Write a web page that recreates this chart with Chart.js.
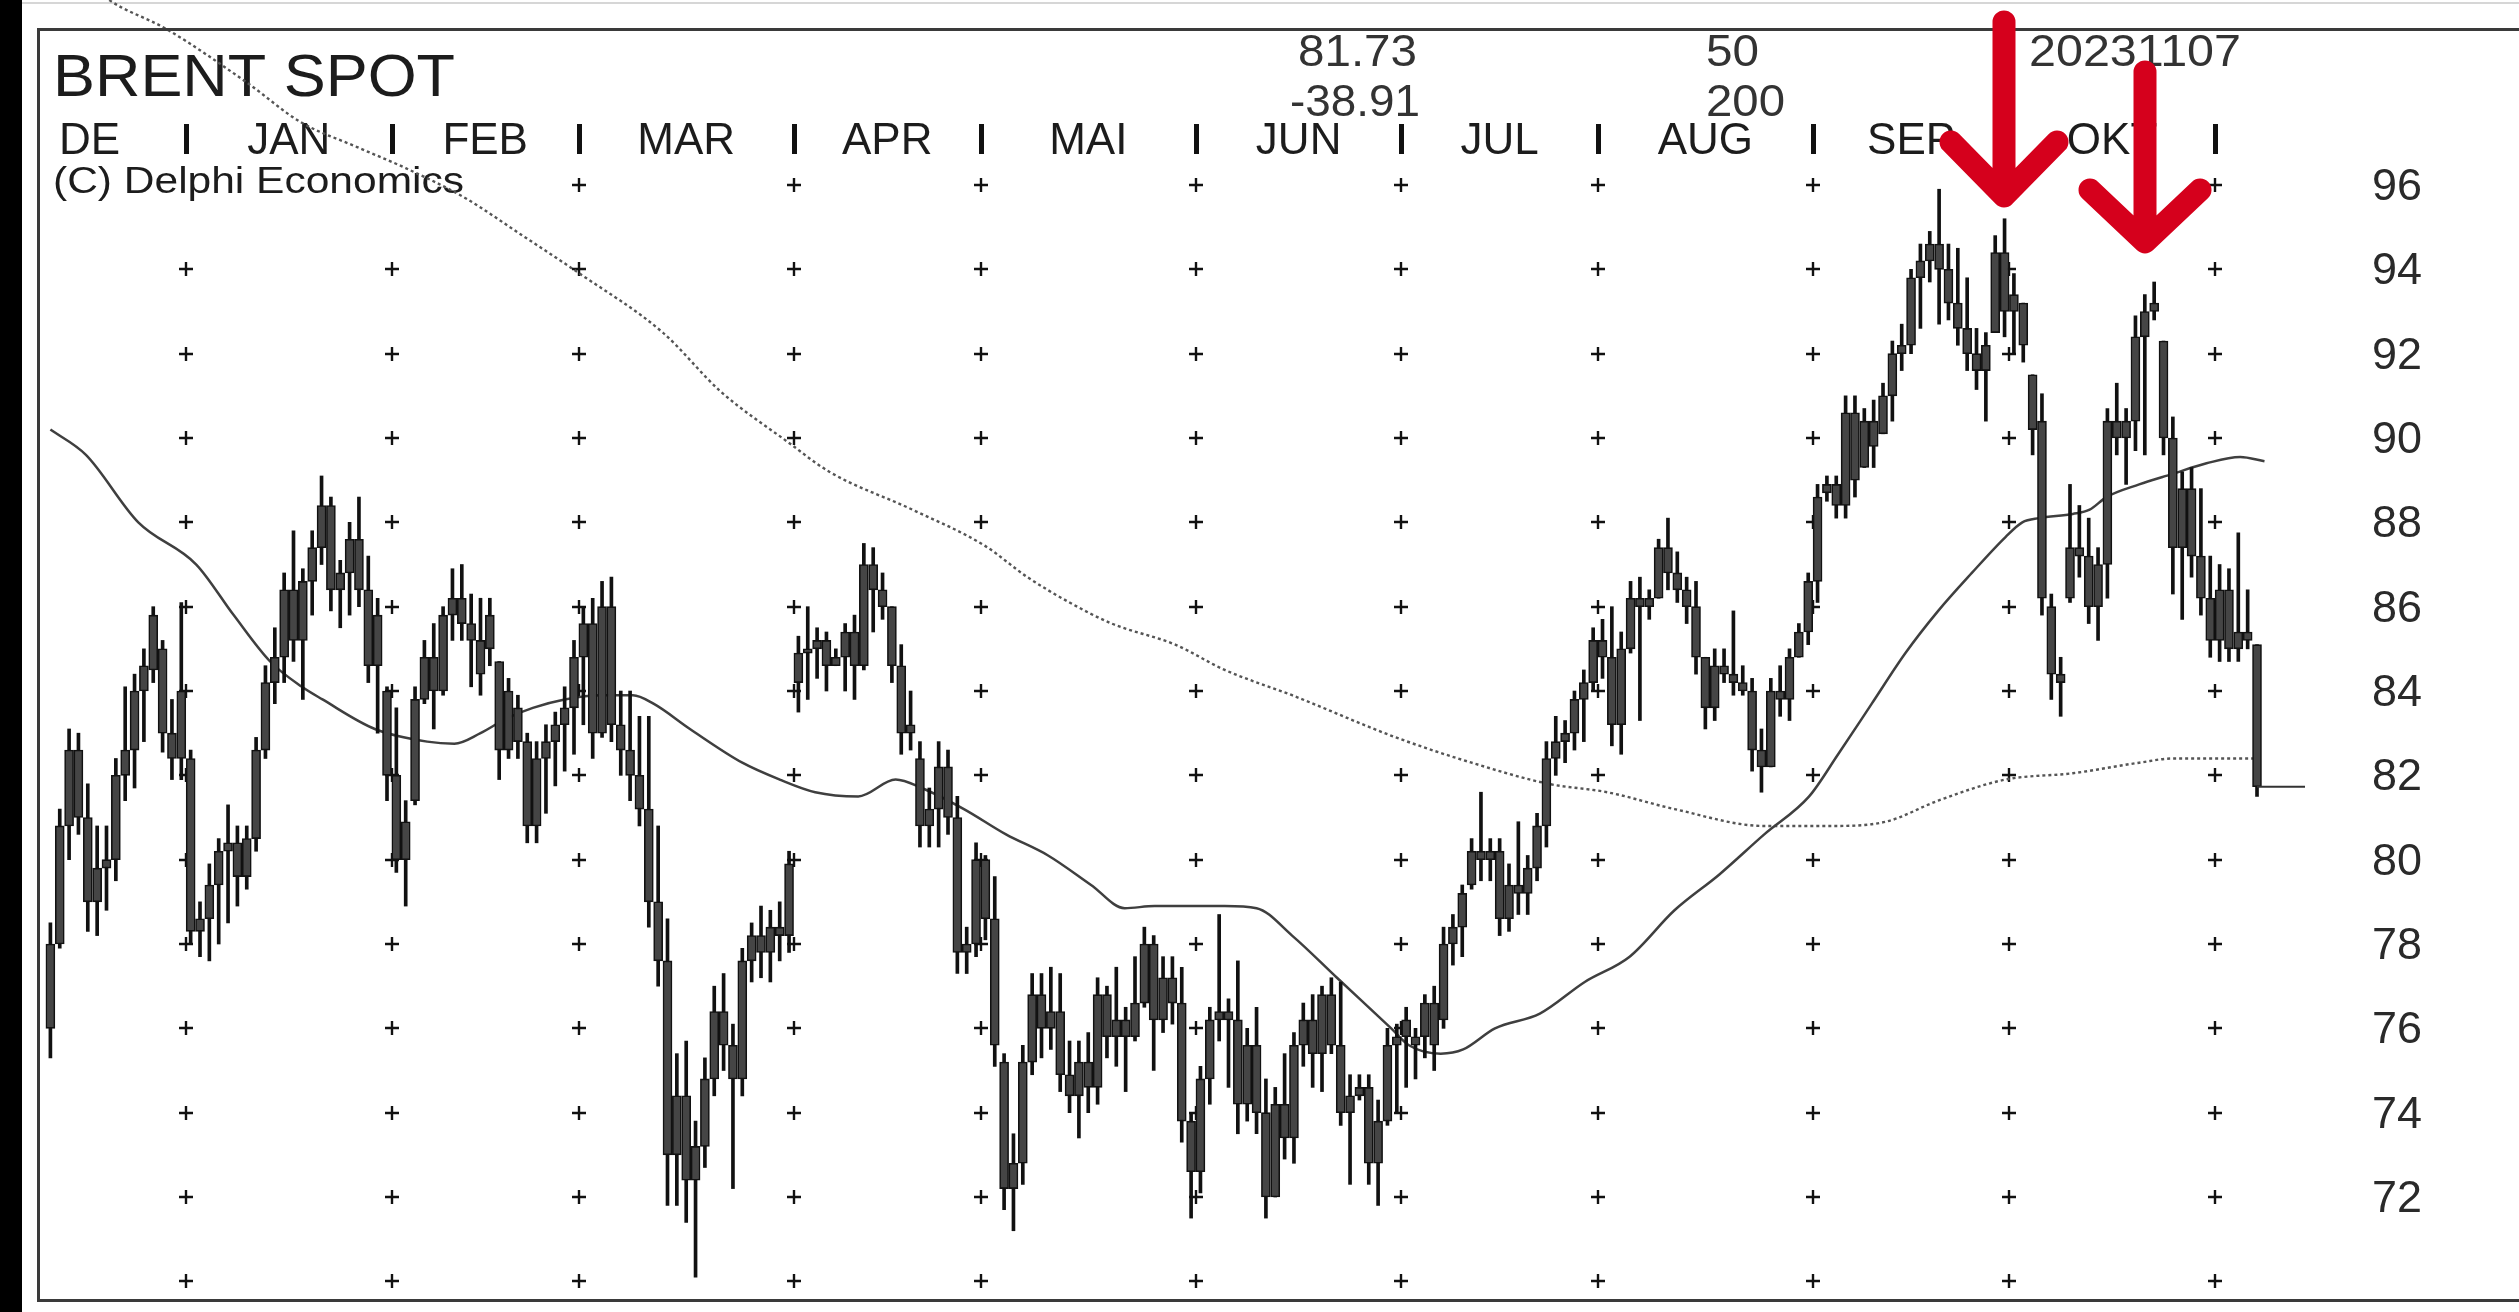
<!DOCTYPE html>
<html><head><meta charset="utf-8">
<script src="https://cdn.jsdelivr.net/npm/chart.js@4.4.0/dist/chart.umd.min.js"></script>
<style>html,body{margin:0;padding:0;background:#fff;overflow:hidden}#wrap{width:2519px;height:1312px;position:relative}canvas{display:block}</style>
</head><body><div id="wrap"><canvas id="c" width="2519" height="1312"></canvas></div>
<script>
// ---- DATA ----
const title = "BRENT SPOT";
const copyright = "(C) Delphi Economics";
const monthLabels = ["DE","JAN","FEB","MAR","APR","MAI","JUN","JUL","AUG","SEP","OKT"];
const monthDays = [15,22,20,23,20,23,22,21,23,21,22,5];
const yTicks = [72,74,76,78,80,82,84,86,88,90,92,94,96];
const gridRows = [70,72,74,76,78,80,82,84,86,88,90,92,94,96];
const lastPriceText = "81.73";
const changeText = "-38.91";
const maShortText = "50";
const maLongText = "200";
const dateText = "20231107";

const opens = [
 76.0,78.0,80.8,82.6,81.0,79.0,79.8,80.0,82.0,82.6,84.0,84.5,85.0,83.0,82.4,
 82.4,78.3,78.6,79.4,80.2,80.4,79.6,80.5,82.6,84.2,84.8,86.4,85.2,86.6,87.4,88.4,86.4,86.8,87.6,86.4,84.6,84.0,
 82.0,80.0,81.4,83.8,84.8,84.0,85.8,86.2,85.6,85.2,85.0,84.7,82.6,83.6,82.8,80.8,82.4,82.8,83.2,83.6,
 84.8,85.6,83.0,86.0,83.2,82.6,82.0,81.2,79.0,77.6,73.0,74.4,72.4,73.2,74.8,76.4,75.6,74.8,77.6,78.2,77.8,78.4,78.2,
 84.2,84.9,85.0,85.2,84.6,84.8,85.4,84.6,87.0,86.4,86.0,84.6,83.0,82.4,80.8,81.2,82.2,81.0,77.8,78.0,
 80.0,78.6,75.2,72.2,72.8,75.2,76.8,76.0,76.4,74.9,74.4,75.2,74.6,76.8,75.8,76.2,75.8,76.6,78.0,76.2,77.2,76.6,73.8,
 72.6,74.8,76.2,76.4,76.2,74.2,75.6,74.0,72.0,74.2,73.4,75.6,76.2,75.4,76.8,75.6,74.0,74.4,74.6,72.8,73.8,75.6,
 75.8,75.6,75.8,76.6,76.2,78.0,78.4,79.4,80.2,80.0,80.2,78.6,79.4,79.2,79.8,80.8,82.4,82.8,83.0,83.8,84.2,
 85.2,84.8,83.2,85.0,86.2,86.0,86.2,87.4,86.8,86.4,86.0,84.8,83.6,84.6,84.4,84.2,84.0,82.6,82.2,84.0,83.8,84.8,85.4,
 86.6,88.7,88.9,88.4,90.6,89.3,90.4,90.1,91.0,92.0,92.2,93.8,94.2,94.6,94.0,93.2,92.6,92.0,91.6,92.5,94.4,
 93.0,93.2,91.5,90.4,86.0,84.4,86.2,87.4,87.2,86.0,87.0,90.4,90.0,90.4,92.4,93.0,92.3,90.0,87.4,88.8,87.2,86.2,
 85.2,86.4,85.0,85.4,85.1
];
const highs = [
 78.5,81.2,83.1,83.0,81.8,80.8,80.8,82.4,84.1,84.4,85.0,86.0,85.2,83.8,86.1,
 82.6,79.0,79.9,80.5,81.3,80.8,80.8,82.9,84.6,85.5,86.8,87.8,86.9,87.8,89.1,88.6,87.1,88.0,88.6,87.2,86.2,84.1,
 83.6,81.4,84.1,85.2,85.6,86.0,86.9,87.0,86.3,86.2,86.2,84.7,84.3,83.9,83.0,82.8,83.2,83.5,84.1,85.2,
 86.0,86.2,86.6,86.7,84.0,84.0,83.4,83.4,80.8,78.6,75.4,75.7,73.8,75.3,77.0,77.3,76.1,77.9,78.5,78.9,78.8,79.0,80.2,
 85.3,86.0,85.5,85.4,85.0,85.6,85.8,87.5,87.4,86.8,86.0,85.1,84.0,82.8,81.7,82.8,82.6,81.5,78.4,80.4,
 80.1,79.6,75.4,73.5,75.6,77.3,77.3,77.45,77.3,75.7,75.7,75.9,77.2,77.0,77.45,76.5,77.7,78.4,78.2,77.7,77.7,77.45,74.0,
 75.1,76.5,78.7,76.7,77.6,76.0,76.5,74.8,74.6,75.4,75.9,76.6,76.8,77.0,77.2,77.1,74.9,74.9,74.9,74.3,76.0,76.1,
 76.5,76.0,76.8,77.0,78.4,78.7,79.4,80.5,81.6,80.5,80.5,79.9,80.9,80.1,81.1,82.8,83.4,83.3,84.0,84.5,85.5,
 85.7,86.0,85.4,86.6,86.7,86.4,87.6,88.1,87.3,86.7,86.6,84.8,85.0,85.0,85.9,84.6,84.3,83.1,84.3,84.6,85.0,85.6,86.8,
 88.9,89.1,89.1,91.0,91.0,90.7,90.9,91.3,92.3,92.7,94.0,94.6,94.9,95.9,94.6,94.5,93.8,92.6,92.5,94.8,95.2,
 93.9,93.2,91.5,91.05,86.3,84.8,88.9,88.4,88.1,87.4,90.7,91.3,90.7,92.9,93.4,93.7,92.3,90.5,89.2,89.3,88.8,87.2,
 87.0,86.9,87.75,86.4,85.1
];
const lows = [
 75.3,77.9,80.0,80.6,78.3,78.2,78.8,79.5,81.4,81.7,82.8,84.2,82.55,81.9,81.9,
 78.0,77.7,77.6,78.0,78.5,78.9,79.3,80.2,82.4,83.7,84.2,84.7,83.8,85.8,87.0,85.9,85.5,85.8,86.0,84.2,83.0,81.4,
 79.7,78.9,81.3,83.7,83.1,83.9,85.2,85.2,84.1,83.9,84.6,81.9,82.4,82.4,80.4,80.4,81.1,81.75,82.1,82.5,
 83.2,82.4,82.9,82.8,82.0,81.4,80.8,78.4,77.0,71.8,71.8,71.4,70.1,72.7,74.4,75.0,72.2,74.4,77.1,77.2,77.1,77.6,77.8,
 83.5,83.8,84.3,84.0,84.6,84.0,83.8,84.5,85.4,85.7,84.2,82.5,82.6,80.3,80.3,80.3,80.6,77.3,77.3,77.7,
 78.1,75.1,71.7,71.2,72.3,74.9,75.3,75.5,74.5,74.0,73.4,74.0,74.2,75.3,75.1,74.5,75.7,76.5,75.0,75.9,76.1,73.3,71.5,
 72.1,74.2,75.7,74.6,73.5,73.8,73.5,71.5,72.0,72.9,72.8,75.1,74.6,74.5,75.4,73.7,72.3,74.3,72.3,71.8,73.7,74.0,
 74.6,74.8,75.3,75.0,76.0,77.5,77.7,79.3,79.5,79.5,78.2,78.3,78.7,78.7,79.5,80.3,82.0,82.3,82.6,82.8,84.0,
 84.3,82.7,82.5,84.9,83.3,85.7,86.2,86.4,86.1,85.6,84.4,83.1,83.3,84.2,83.9,83.9,82.1,81.6,82.2,83.4,83.3,84.8,85.1,
 86.1,88.5,88.1,88.1,88.6,89.3,89.3,90.1,90.4,91.6,92.0,92.6,93.7,92.7,92.8,92.2,91.6,91.15,90.4,92.5,92.4,
 92.0,91.8,89.6,85.8,83.8,83.4,86.1,86.7,85.6,85.2,86.2,89.6,88.9,89.7,89.6,92.8,89.6,86.3,85.7,86.7,85.8,84.8,
 84.7,84.7,84.7,85.0,81.5
];
const closes = [
 78.0,80.8,82.6,81.0,79.0,79.8,80.0,82.0,82.6,84.0,84.6,85.8,83.0,82.4,84.0,
 78.3,78.6,79.4,80.2,80.4,79.6,80.5,82.6,84.2,84.8,86.4,85.2,86.6,87.4,88.4,86.4,86.8,87.6,86.4,84.6,85.8,82.0,
 80.0,80.9,83.8,84.8,84.0,85.8,86.2,85.6,85.2,84.4,85.8,82.6,84.0,82.8,80.8,82.4,82.8,83.2,83.6,84.8,
 85.6,83.0,86.0,83.2,82.6,82.0,81.2,79.0,77.6,73.0,74.4,72.4,73.2,74.8,76.4,75.6,74.8,77.6,78.2,77.8,78.4,78.2,79.9,
 84.9,85.0,85.2,84.6,84.8,85.4,84.6,87.0,86.4,86.0,84.6,83.0,83.2,80.8,81.2,82.2,81.0,77.8,78.0,80.0,
 78.6,75.6,72.2,72.8,75.2,76.8,76.0,76.4,74.9,74.4,75.2,74.6,76.8,75.8,76.2,75.8,76.6,78.0,76.2,77.2,76.6,73.8,72.6,
 74.8,76.2,76.4,76.2,74.2,75.6,74.0,72.0,74.2,73.4,75.6,76.2,75.4,76.8,75.6,74.0,74.4,74.6,72.8,73.8,75.6,75.8,
 76.2,75.8,76.6,75.6,78.0,78.4,79.2,80.2,80.0,80.2,78.6,79.4,79.2,79.8,80.8,82.4,82.8,83.0,83.8,84.2,85.2,
 84.8,83.2,85.0,86.2,86.0,86.2,87.4,86.8,86.4,86.0,84.8,83.6,84.6,84.4,84.2,84.0,82.6,82.2,84.0,83.8,84.8,85.4,86.6,
 88.6,88.9,88.4,90.6,89.0,90.4,89.8,91.0,92.0,92.2,93.8,94.2,94.6,94.0,93.2,92.6,92.0,91.6,92.2,94.4,93.0,
 93.4,92.2,90.2,86.2,84.4,84.2,87.4,87.2,86.0,87.0,90.4,90.0,90.4,92.4,93.0,93.2,90.0,87.4,88.8,87.2,86.2,85.2,
 86.4,85.0,85.4,85.2,81.73
];

const ma50Days = [0,3.8,9.4,15.6,19.6,23.5,26.9,29.1,34.7,40.3,43.2,46,48.8,51.6,55,58.9,62.3,64.5,68.4,74,78,81.8,86.4,90.4,93.2,97.7,102.2,106.7,111.3,114.9,118.1,125.6,129,132.8,137.6,143.4,145.3,148.7,151.1,154.5,159.3,164.1,168.9,173.7,178.5,183.3,188.1,191.2,194.8,198.4,201.9,205.5,209.1,210.9,212.7,216.3,218.1,219.9,223.4,227,230.6,234.2,236.8];
const ma50Values = [90.2,89.6,88.0,87.0,85.8,84.7,84.1,83.8,83.1,82.8,82.75,83.0,83.35,83.6,83.8,83.9,83.9,83.7,83.1,82.3,81.9,81.6,81.5,81.9,81.7,81.2,80.6,80.1,79.4,78.85,78.9,78.9,78.85,78.2,77.2,76.0,75.6,75.4,75.5,76.0,76.35,77.1,77.7,78.8,79.65,80.6,81.5,82.5,83.7,84.9,85.9,86.8,87.65,88.0,88.1,88.2,88.3,88.6,88.9,89.15,89.4,89.55,89.45];

const ma200Days = [0,6.2,12.4,21.2,26.7,32.8,38,44.3,50.5,56.6,65.5,71.7,78.9,83.3,92.2,99.9,104.5,109,113.5,120.3,125.6,132.8,143.9,152,160.2,166.5,173.7,183.3,190.5,196.3,201.9,209.1,216.3,223.4,227,236];
const ma200Values = [101.6,100.4,99.7,98.4,97.5,96.9,96.4,95.7,94.8,93.9,92.5,91.1,89.9,89.2,88.3,87.45,86.7,86.1,85.6,85.1,84.5,83.9,82.9,82.3,81.8,81.6,81.2,80.8,80.8,80.9,81.4,81.9,82.05,82.3,82.4,82.4];

// ---- derived ----
const seps = [];
{ let cum = 0; for (let k = 0; k < monthDays.length - 1; k++) { cum += monthDays[k]; seps.push(cum - 0.5); } }
const FONT = '"Liberation Sans", Arial, sans-serif';

function drawText(c, s, x, y, size, align, targetW, color, weight) {
  c.save();
  c.font = (weight || '') + ' ' + size + 'px ' + FONT;
  c.fillStyle = color || '#222';
  c.textAlign = align; c.textBaseline = 'alphabetic';
  const w = c.measureText(s).width;
  const sx = targetW ? targetW / w : 1;
  c.translate(x, y); c.scale(sx, 1);
  c.fillText(s, 0, 0);
  c.restore();
}

const decor = {
  id: 'decor',
  beforeDraw(chart) {
    const c = chart.ctx;
    c.save(); c.fillStyle = '#fff'; c.fillRect(0, 0, chart.width, chart.height);
    c.strokeStyle = '#d6d6d6'; c.lineWidth = 2;
    c.beginPath(); c.moveTo(22, 3); c.lineTo(chart.width, 3); c.stroke();
    c.restore();
  },
  beforeDatasetsDraw(chart) {
    const c = chart.ctx, xs = chart.scales.x, ys = chart.scales.y;
    c.save();
    // plus grid
    c.strokeStyle = '#111'; c.lineWidth = 2.4;
    seps.forEach(s => {
      const px = Math.round(xs.getPixelForValue(s));
      gridRows.forEach(v => {
        const py = Math.round(ys.getPixelForValue(v));
        c.beginPath();
        c.moveTo(px - 7, py); c.lineTo(px + 7, py);
        c.moveTo(px, py - 7); c.lineTo(px, py + 7);
        c.stroke();
      });
    });
    // header
    drawText(c, title, 53, 96, 60, 'left', 402, '#1c1c1c');
    // month labels and separators
    const sepPx = seps.map(s => xs.getPixelForValue(s));
    monthLabels.forEach((m, k) => {
      if (k === 0) { drawText(c, m, 59, 154, 44, 'left', null, '#1c1c1c'); return; }
      const cx = (sepPx[k - 1] + sepPx[k]) / 2;
      drawText(c, m, cx, 154, 44, 'center', null, '#1c1c1c');
    });
    c.fillStyle = '#111';
    sepPx.forEach(px => { c.fillRect(Math.round(px) - 2, 124, 5, 30); });
    // copyright with white box
    c.fillStyle = '#fff'; c.fillRect(50, 160, 420, 42);
    drawText(c, copyright, 53, 193, 36, 'left', 411, '#1c1c1c');
    // top numbers
    drawText(c, lastPriceText, 1417, 66, 44, 'right', 119, '#333');
    drawText(c, changeText, 1420, 116, 44, 'right', 130, '#333');
    drawText(c, maShortText, 1706, 66, 44, 'left', 53, '#333');
    drawText(c, maLongText, 1706, 116, 44, 'left', 79, '#333');
    drawText(c, dateText, 2029, 66, 44, 'left', 212, '#333');
    // y tick labels
    yTicks.forEach(v => {
      const py = ys.getPixelForValue(v);
      drawText(c, String(v), 2397, py + 15, 44, 'center', 50, '#2a2a2a');
    });
    c.restore();
  },
  afterDraw(chart) {
    const c = chart.ctx, xs = chart.scales.x, ys = chart.scales.y;
    c.save();
    // last close extension
    const li = closes.length - 1;
    const lx = xs.getPixelForValue(li), ly = ys.getPixelForValue(closes[li]);
    c.strokeStyle = '#333'; c.lineWidth = 2;
    c.beginPath(); c.moveTo(lx, ly); c.lineTo(lx + 48, ly); c.stroke();
    // frame
    c.strokeStyle = '#3a3a3a'; c.lineWidth = 3;
    c.beginPath();
    c.moveTo(chart.width, 29.5); c.lineTo(38.5, 29.5); c.lineTo(38.5, 1300.5); c.lineTo(chart.width, 1300.5);
    c.stroke();
    // left black strip
    c.fillStyle = '#000'; c.fillRect(0, 0, 22, chart.height);
    // red arrows
    c.strokeStyle = '#d5001c'; c.lineWidth = 23; c.lineCap = 'round'; c.lineJoin = 'round';
    c.beginPath(); c.moveTo(2004, 22); c.lineTo(2004, 192);
    c.moveTo(1951, 142); c.lineTo(2004, 196); c.lineTo(2057, 142); c.stroke();
    c.beginPath(); c.moveTo(2145, 72); c.lineTo(2145, 238);
    c.moveTo(2090, 190); c.lineTo(2145, 242); c.lineTo(2200, 190); c.stroke();
    c.restore();
  }
};

const bodyData = opens.map((o, i) => {
  const c = closes[i];
  let lo = Math.min(o, c), hi = Math.max(o, c);
  if (hi - lo < 0.08) { const m = (hi + lo) / 2; lo = m - 0.05; hi = m + 0.05; }
  return { x: i, y: [lo, hi] };
});

new Chart(document.getElementById('c'), {
  type: 'bar',
  data: {
    datasets: [
      { type: 'line', label: 'MA 50', data: ma50Days.map((d, k) => ({ x: d, y: ma50Values[k] })),
        borderColor: '#3f3f3f', borderWidth: 2.5, pointRadius: 0, cubicInterpolationMode: 'monotone', order: 3 },
      { type: 'line', label: 'MA 200', data: ma200Days.map((d, k) => ({ x: d, y: ma200Values[k] })),
        borderColor: '#555', borderWidth: 2.4, borderDash: [3, 3], pointRadius: 0, cubicInterpolationMode: 'monotone', clip: false, order: 4 },
      { type: 'bar', label: 'Range', data: highs.map((h, i) => ({ x: i, y: [lows[i], h] })),
        backgroundColor: '#111', barThickness: 3, grouped: false, order: 2 },
      { type: 'bar', label: 'Body', data: bodyData,
        backgroundColor: '#454545', borderColor: '#111', borderWidth: 1.6, borderSkipped: false, barThickness: 9, grouped: false, order: 1 }
    ]
  },
  options: {
    responsive: false, animation: false, devicePixelRatio: 1, events: [],
    layout: { padding: { left: 38, top: 29, right: 0, bottom: 11 } },
    plugins: { legend: { display: false }, tooltip: { enabled: false } },
    scales: {
      x: { type: 'linear', min: -1.326, max: 264.02, display: false, offset: false },
      y: { type: 'linear', min: 69.534, max: 99.70, display: false }
    }
  },
  plugins: [decor]
});
</script></body></html>
